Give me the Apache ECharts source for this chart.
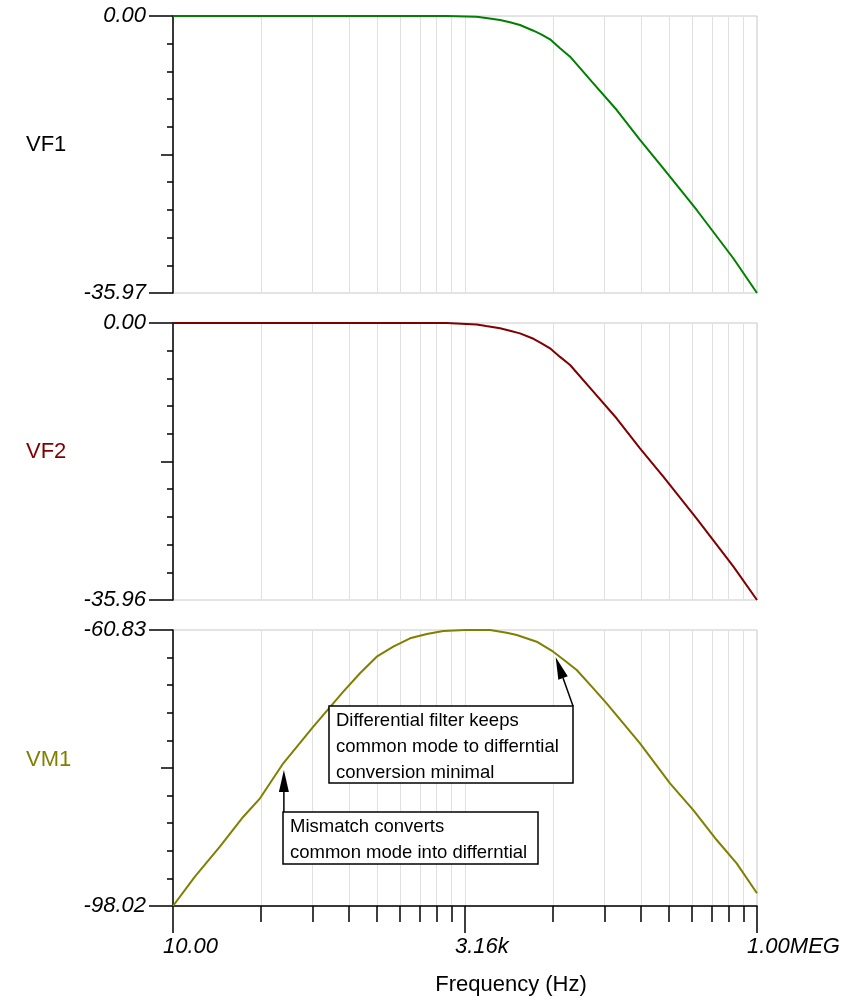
<!DOCTYPE html>
<html>
<head>
<meta charset="utf-8">
<script src="https://cdn.jsdelivr.net/npm/echarts@6/dist/echarts.min.js"></script>
<style>
html, body { margin: 0; padding: 0; background: #fff; }
#chart { width: 868px; height: 1000px; }
</style>
</head>
<body>
<div id="chart"></div>
<script>
// values (dB vs Hz)
const freqF = [10, 100, 1000, 2200, 3980, 4790, 6310, 7670, 9350, 12200, 14200, 16900, 20600, 25100, 39700, 63000, 99600, 157700, 304600, 626600, 1000000];
const vf1 = [0, 0, 0, 0, -0.09, -0.26, -0.52, -0.82, -1.17, -1.91, -2.38, -3.03, -4.2, -5.28, -8.74, -12.21, -16.10, -19.78, -25.19, -31.46, -35.97];
const vf2 = [0, 0, 0, 0, -0.2, -0.4, -0.69, -1.0, -1.35, -2.05, -2.6, -3.29, -4.4, -5.45, -8.9, -12.4, -16.27, -19.95, -25.4, -31.6, -35.96];
const freqM = [10, 15.4, 25.2, 40, 55.6, 87.9, 159, 287, 399, 555, 769, 1070, 1490, 2060, 3160, 5180, 7190, 8770, 13000, 18000, 22700, 28600, 38500, 51600, 99600, 180000, 285000, 452000, 670000, 1000000];
const vm1 = [-98.02, -94.07, -90.03, -85.99, -83.51, -78.79, -73.86, -69.14, -66.66, -64.43, -63.08, -61.95, -61.37, -60.96, -60.83, -60.83, -61.19, -61.50, -62.41, -63.75, -64.97, -66.22, -68.47, -70.71, -76.10, -81.49, -85.09, -89.13, -92.27, -96.31];

const xLabelValues = [10, 3162.2777, 1000000];
const xLabelTexts = ['10.00', '3.16k', '1.00MEG'];
const yRanges = [[-35.97, 0], [-35.96, 0], [-98.02, -60.83]];
const panelNames = ['VF1', 'VF2', 'VM1'];
const panelColors = ['#008000', '#800000', '#808000'];
const nameColors = ['#000000', '#800000', '#808000'];

// TINA splits 10..1MEG in two 316x "decades", minor ticks at k^2.5 inside each
const xTicks = [];
xLabelValues.slice(0, 2).forEach(b => {
    for (let k = 1; k < 10; k++) xTicks.push(b * Math.pow(k, 2.5));
});
xTicks.push(1000000);

const FONT = 'Liberation Sans';
const chart = echarts.init(document.getElementById('chart'));

const grids = [
    { top: 16, height: 277 },
    { top: 323, height: 277 },
    { top: 630, height: 276 }
].map(g => Object.assign({ left: 173, width: 584, show: true, borderColor: '#c8c8c8', borderWidth: 1 }, g));

const xAxis = [0, 1, 2].map(i => ({
    type: 'log', gridIndex: i, min: 10, max: 1000000, position: 'bottom',
    axisLine: { show: i === 2, onZero: false, lineStyle: { color: '#000', width: 1.5 } },
    axisTick: { show: i === 2, length: 16, customValues: xTicks, lineStyle: { color: '#000', width: 1.5 } },
    axisLabel: { show: false },
    splitLine: { show: true, lineStyle: { color: '#e0e0e0', width: 1 } }
}));
xAxis.push({
    type: 'log', gridIndex: 2, min: 10, max: 1000000, position: 'bottom',
    axisLine: { show: false },
    axisTick: { length: 27, customValues: xLabelValues, lineStyle: { color: '#000', width: 1.5 } },
    axisLabel: {
        customValues: xLabelValues, margin: 30, align: 'left', padding: [0, 0, 0, -10],
        fontFamily: FONT, fontStyle: 'italic', fontSize: 22, color: '#000',
        formatter: v => {
            let best = 0;
            xLabelValues.forEach((x, j) => {
                if (Math.abs(Math.log10(x) - Math.log10(v)) < Math.abs(Math.log10(xLabelValues[best]) - Math.log10(v))) best = j;
            });
            return xLabelTexts[best];
        }
    },
    splitLine: { show: false }
});

const yAxis = [];
yRanges.forEach((r, i) => {
    const [mn, mx] = r;
    const step = (mx - mn) / 10;
    const minors = [1, 2, 3, 4, 6, 7, 8, 9].map(k => mn + k * step);
    const base = { type: 'value', gridIndex: i, position: 'left', offset: 0, min: mn, max: mx, splitLine: { show: false } };
    yAxis.push(Object.assign({}, base, {
        axisLine: { show: true, onZero: false, lineStyle: { color: '#000', width: 1.5 } },
        axisTick: { length: 24, customValues: [mn, mx], lineStyle: { color: '#000', width: 1.5 } },
        axisLabel: {
            customValues: [mn, mx], margin: 27, fontFamily: FONT, fontStyle: 'italic',
            fontSize: 22, color: '#000', formatter: v => v.toFixed(2)
        }
    }));
    yAxis.push(Object.assign({}, base, {
        axisLine: { show: false },
        axisTick: { length: 12, customValues: [mn + 5 * step], lineStyle: { color: '#000', width: 1.5 } },
        axisLabel: { show: false }
    }));
    yAxis.push(Object.assign({}, base, {
        axisLine: { show: false },
        axisTick: { length: 6, customValues: minors, lineStyle: { color: '#000', width: 1.5 } },
        axisLabel: { show: false }
    }));
});

const seriesData = [
    freqF.map((f, j) => [f, vf1[j]]),
    freqF.map((f, j) => [f, vf2[j]]),
    freqM.map((f, j) => [f, vm1[j]])
];

chart.setOption({
    animation: false,
    backgroundColor: '#fff',
    grid: grids,
    xAxis: xAxis,
    yAxis: yAxis,
    series: seriesData.map((d, i) => ({
        name: panelNames[i], type: 'line', xAxisIndex: i, yAxisIndex: i * 3,
        data: d, showSymbol: false,
        lineStyle: { color: panelColors[i], width: 2 }
    }))
});

// annotations: boxes in pixels, arrow tips on the VM1 curve
const tip1 = chart.convertToPixel({ seriesIndex: 2 }, [18900, -64.5]);
const tip2 = chart.convertToPixel({ seriesIndex: 2 }, [89, -79.7]);

function arrow(from, to) {
    const dx = to[0] - from[0], dy = to[1] - from[1];
    const len = Math.sqrt(dx * dx + dy * dy);
    const ux = dx / len, uy = dy / len;
    const hl = 22, hw = 5;
    const bx = to[0] - ux * hl, by = to[1] - uy * hl;
    return [
        { type: 'line', shape: { x1: from[0], y1: from[1], x2: bx, y2: by }, style: { stroke: '#000', lineWidth: 1.5 } },
        { type: 'polygon', shape: { points: [to, [bx - uy * hw, by + ux * hw], [bx + uy * hw, by - ux * hw]] }, style: { fill: '#000' } }
    ];
}

function box(x, y, w, h, lines) {
    return [
        { type: 'rect', shape: { x: x, y: y, width: w, height: h }, style: { fill: '#fff', stroke: '#000', lineWidth: 1.5 }, z: 10 },
        { type: 'text', x: x + 7, y: y + 2, z: 11, style: { text: lines.join('\n'), font: '18.5px "Liberation Sans"', lineHeight: 26, fill: '#000' } }
    ];
}

const graphics = [];
panelNames.forEach((n, i) => {
    graphics.push({
        type: 'text', x: 26, y: [145, 452, 760][i],
        style: { text: n, font: '22px "Liberation Sans"', fill: nameColors[i], verticalAlign: 'middle' }
    });
});
graphics.push({
    type: 'text', x: 511, y: 985,
    style: { text: 'Frequency (Hz)', font: '22px "Liberation Sans"', fill: '#000', align: 'center', verticalAlign: 'middle' }
});
graphics.push(...box(329, 706, 244, 77, ['Differential filter keeps', 'common mode to differntial', 'conversion minimal']));
graphics.push(...box(283, 812, 255, 52, ['Mismatch converts', 'common mode into differntial']));
graphics.push(...arrow([573, 706], tip1));
graphics.push(...arrow([tip2[0], 812], tip2));

chart.setOption({ graphic: graphics });
</script>
</body>
</html>
